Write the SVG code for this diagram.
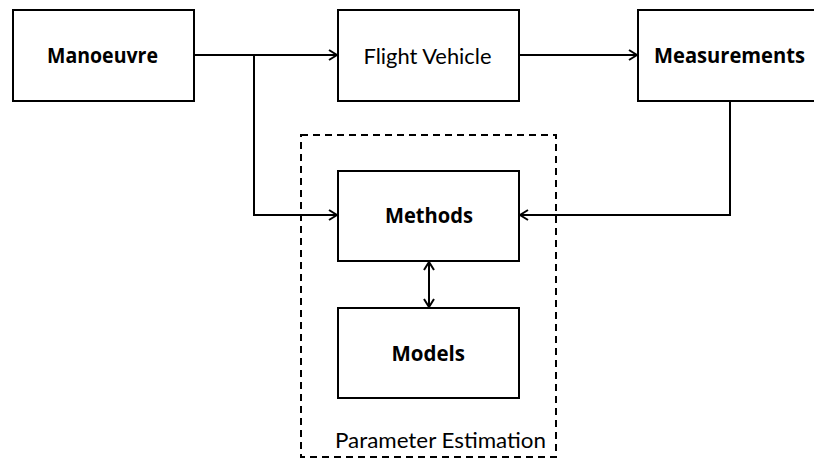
<svg xmlns="http://www.w3.org/2000/svg" width="814" height="459" viewBox="0 0 814 459">
  <style>
    .box { fill: #ffffff; stroke: #000000; stroke-width: 2; }
    .group { fill: none; stroke: #000000; stroke-width: 2; stroke-dasharray: 7 5; }
    .wire { fill: none; stroke: #000000; stroke-width: 2; }
    .bold { font-family: "Open Sans", "Liberation Sans", sans-serif; font-weight: bold; font-size: 21px; fill: #000000; }
    .plain { font-family: "Lato", "Liberation Sans", sans-serif; font-size: 21px; fill: #000000; }
  </style>
  <defs>
    <marker id="head" viewBox="0 0 10 12" refX="9" refY="6" markerWidth="10" markerHeight="12" markerUnits="userSpaceOnUse" orient="auto-start-reverse">
      <path d="M1,1 L9,6 L1,11" fill="none" stroke="#000000" stroke-width="2"/>
    </marker>
  </defs>
  <rect width="814" height="459" fill="#ffffff"/>

  <g id="parameter-estimation">
    <rect class="group" x="301" y="135" width="255" height="322"/>
    <text class="plain" x="335" y="447.5" textLength="211" lengthAdjust="spacingAndGlyphs">Parameter Estimation</text>
  </g>

  <g id="connectors">
    <path class="wire" d="M194,55 H337" marker-end="url(#head)"/>
    <path class="wire" d="M254,55 V215 H337" marker-end="url(#head)"/>
    <path class="wire" d="M519,55 H637" marker-end="url(#head)"/>
    <path class="wire" d="M730,101 V215 H520" marker-end="url(#head)"/>
    <path class="wire" d="M429,262 V307" marker-start="url(#head)" marker-end="url(#head)"/>
  </g>

  <g id="manoeuvre">
    <rect class="box" x="13" y="10" width="181" height="91"/>
    <text class="bold" x="47" y="62.5" textLength="111" lengthAdjust="spacingAndGlyphs">Manoeuvre</text>
  </g>

  <g id="flight-vehicle">
    <rect class="box" x="338" y="10" width="181" height="91"/>
    <text class="plain" x="363.5" y="64" textLength="128" lengthAdjust="spacingAndGlyphs">Flight Vehicle</text>
  </g>

  <g id="measurements">
    <rect class="box" x="638" y="10" width="184" height="91"/>
    <text class="bold" x="654" y="63" textLength="151" lengthAdjust="spacingAndGlyphs">Measurements</text>
  </g>

  <g id="methods">
    <rect class="box" x="338" y="171" width="181" height="90"/>
    <text class="bold" x="385" y="222.5" textLength="88" lengthAdjust="spacingAndGlyphs">Methods</text>
  </g>

  <g id="models">
    <rect class="box" x="338" y="308" width="181" height="90"/>
    <text class="bold" x="391.5" y="360.5" textLength="73.5" lengthAdjust="spacingAndGlyphs">Models</text>
  </g>
</svg>
